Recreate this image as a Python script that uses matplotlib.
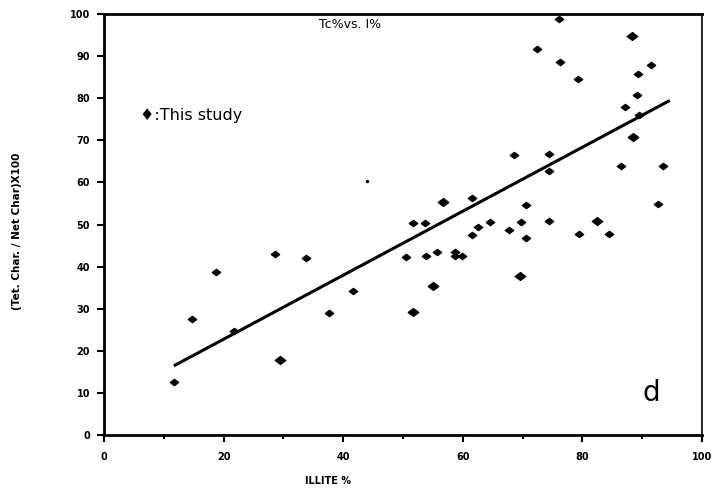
import numpy as np
import matplotlib.pyplot as plt
from matplotlib.path import Path

# illite % vs (Tet. Char. / Net Char) x 100
illite = [11.7, 14.7, 18.7, 21.7, 28.6, 33.7, 37.7, 41.7, 50.5, 51.6,
          53.7, 53.8, 55.7, 58.7, 58.7, 59.8, 61.5, 61.6, 62.6, 64.6,
          67.7, 68.5, 69.7, 70.6, 70.6, 72.4, 74.4, 74.4, 74.4, 76.1,
          76.3, 79.2, 79.4, 84.4, 86.4, 87.2, 89.2, 89.3, 89.5, 91.5,
          92.6, 93.4]
tet_ratio = [12.5, 27.5, 38.8, 24.7, 43.1, 42.1, 29.0, 34.1, 42.4, 50.3,
             50.3, 42.5, 43.4, 43.5, 42.5, 42.5, 47.5, 56.4, 49.5, 50.7,
             48.7, 66.6, 50.7, 46.8, 54.6, 91.6, 66.7, 62.7, 50.8, 98.7,
             88.7, 84.6, 47.8, 47.8, 63.9, 77.8, 80.8, 85.8, 76.0, 87.8,
             54.9, 63.9]

# heavier points
illite_big = [29.5, 51.7, 55.0, 56.7, 69.6, 82.4, 88.3, 88.4]
tet_big = [17.9, 29.2, 35.4, 55.3, 37.7, 50.8, 94.8, 70.9]

# stray point
illite_dot = [43.9]
tet_dot = [60.3]

# regression line
fit_slope = 0.76
fit_intercept = 7.56
fit_range = [11.9, 94.4]

# slightly flattened diamond marker
diamond = Path([(-1, 0), (0, 0.75), (1, 0), (0, -0.75), (-1, 0)],
               [Path.MOVETO, Path.LINETO, Path.LINETO, Path.LINETO, Path.CLOSEPOLY])

fig = plt.figure(figsize=(7.13, 4.93), dpi=100)
ax = fig.add_axes([0.1459, 0.1176, 0.8387, 0.854])

ax.plot(illite, tet_ratio, linestyle='none', marker=diamond, markersize=6,
        color='black')
ax.plot(illite_big, tet_big, linestyle='none', marker=diamond, markersize=7.5,
        color='black')
ax.plot(illite_dot, tet_dot, linestyle='none', marker='o', markersize=1.5,
        color='black')

xf = np.array(fit_range)
ax.plot(xf, fit_slope * xf + fit_intercept, color='black', lw=2.2)

ax.set_xlim(0, 100)
ax.set_ylim(0, 100)
ax.set_xticks(range(0, 101, 20))
ax.set_xticks(range(0, 101, 10), minor=True)
ax.set_yticks(range(0, 101, 10))
ax.tick_params(axis='both', which='major', direction='out', length=5,
               width=1.5, labelsize=7, colors='black')
ax.tick_params(axis='x', which='major', pad=7)
ax.tick_params(axis='y', which='major', pad=5)
ax.tick_params(axis='x', which='minor', direction='out', length=3, width=1.5)
for lab in ax.get_xticklabels() + ax.get_yticklabels():
    lab.set_fontweight('bold')

for side in ['left', 'bottom', 'top']:
    ax.spines[side].set_linewidth(2)
ax.spines['right'].set_linewidth(1.2)
ax.spines['right'].set_linestyle((0, (6, 1)))

ax.text(0.06, 0.760, '\u2666:This study', transform=ax.transAxes,
        fontsize=11.5, va='center', ha='left')
ax.text(0.915, 0.10, 'd', transform=ax.transAxes, fontsize=20,
        ha='center', va='center')

fig.text(350 / 713, 1 - 25 / 493, 'Tc%vs. I%', ha='center', va='center',
         fontsize=9)
fig.text(328 / 713, 1 - 481 / 493, 'ILLITE %', ha='center', va='center',
         fontsize=7, fontweight='bold')
fig.text(17 / 713, 0.53, '(Tet. Char. / Net Char)X100', rotation=90,
         ha='center', va='center', fontsize=7.5, fontweight='bold')

fig.savefig('out.png', dpi=100)
